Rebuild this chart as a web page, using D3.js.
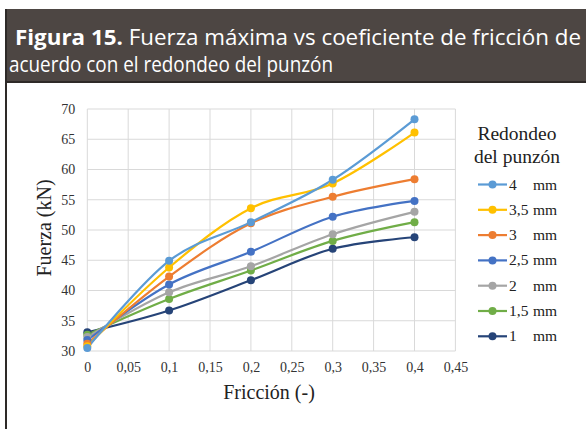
<!DOCTYPE html>
<html><head><meta charset="utf-8">
<script src="https://cdn.jsdelivr.net/npm/d3@7"></script>
<style>body{margin:0;background:#fff}svg{display:block}</style>
</head><body>
<svg id="c" width="586" height="429"></svg>
<script>
const friction = [0, 0.1, 0.2, 0.3, 0.4];
const seriesNames = ["4    mm", "3,5 mm", "3    mm", "2,5 mm", "2    mm", "1,5 mm", "1    mm"];
const s4   = [30.5, 44.9, 51.3, 58.3, 68.3];
const s35  = [30.8, 43.8, 53.6, 57.7, 66.1];
const s3   = [31.2, 42.3, 51.1, 55.5, 58.4];
const s25  = [31.8, 41.0, 46.4, 52.2, 54.8];
const s2   = [32.3, 39.7, 44.0, 49.3, 53.0];
const s15  = [32.7, 38.6, 43.3, 48.2, 51.3];
const s1   = [33.1, 36.7, 41.7, 46.9, 48.8];
const colors = ["#5B9BD5", "#FFC000", "#ED7D31", "#4472C4", "#A5A5A5", "#70AD47", "#264478"];
const xTicks = [0, 0.05, 0.1, 0.15, 0.2, 0.25, 0.3, 0.35, 0.4, 0.45];
const yTicks = [30, 35, 40, 45, 50, 55, 60, 65, 70];

const allSeries = [s4, s35, s3, s25, s2, s15, s1];
const svg = d3.select("#c");

// header
svg.append("rect").attr("x", 5).attr("y", 9).attr("width", 581).attr("height", 74).attr("fill", "#4d4643");
svg.append("rect").attr("x", 5).attr("y", 81).attr("width", 581).attr("height", 2).attr("fill", "#2e2a28");
svg.append("rect").attr("x", 5).attr("y", 9).attr("width", 2).attr("height", 420).attr("fill", "#2e2a28");
const t1 = svg.append("text").attr("x", 15).attr("y", 45).attr("fill", "#fff")
  .style("font-family", "Open Sans").style("font-size", "21px")
  .attr("textLength", 566).attr("lengthAdjust", "spacingAndGlyphs");
t1.append("tspan").style("font-weight", "bold").text("Figura 15.");
t1.append("tspan").text(" Fuerza máxima vs coeficiente de fricción de");
svg.append("text").attr("x", 9).attr("y", 72).attr("fill", "#fff")
  .style("font-family", "Open Sans").style("font-size", "21px")
  .attr("textLength", 324).attr("lengthAdjust", "spacingAndGlyphs")
  .text("acuerdo con el redondeo del punzón");

const x = d3.scaleLinear().domain([0, 0.45]).range([87.3, 455.4]);
const y = d3.scaleLinear().domain([30, 70]).range([351, 109]);

const g = svg.append("g");
// grid
g.selectAll(".vg").data(xTicks).join("line")
  .attr("x1", d => x(d)).attr("x2", d => x(d)).attr("y1", y(30)).attr("y2", y(70))
  .attr("stroke", "#d9d9d9").attr("stroke-width", 1);
g.selectAll(".hg").data(yTicks).join("line")
  .attr("x1", x(0)).attr("x2", x(0.45)).attr("y1", d => y(d)).attr("y2", d => y(d))
  .attr("stroke", "#d9d9d9").attr("stroke-width", 1);

const serif = "'Liberation Serif', 'Times New Roman', serif";
// axes via d3
const xa = svg.append("g").attr("transform", `translate(0,${y(30)})`)
  .call(d3.axisBottom(x).tickValues(xTicks).tickSize(0).tickPadding(11)
    .tickFormat(d => String(+d.toFixed(2)).replace(".", ",")));
xa.select(".domain").remove();
xa.selectAll("text").style("font-family", serif).style("font-size", "14px").attr("fill", "#333");
const ya = svg.append("g").attr("transform", `translate(${x(0)},0)`)
  .call(d3.axisLeft(y).tickValues(yTicks).tickSize(0).tickPadding(12));
ya.select(".domain").remove();
ya.selectAll("text").style("font-family", serif).style("font-size", "14px").attr("fill", "#333");

// titles
svg.append("text").attr("x", 269).attr("y", 399).attr("text-anchor", "middle")
  .style("font-family", serif).style("font-size", "20px").attr("fill", "#222").text("Fricción (-)");
svg.append("text").attr("transform", "translate(51,228) rotate(-90)").attr("text-anchor", "middle")
  .style("font-family", serif).style("font-size", "20px").attr("fill", "#222").text("Fuerza (kN)");

// lines
const line = d3.line().x((d, i) => x(friction[i])).y(d => y(d)).curve(d3.curveCardinal);
const order = [6, 5, 4, 3, 2, 1, 0];
order.forEach(k => {
  const vals = allSeries[k];
  svg.append("path").attr("d", line(vals)).attr("fill", "none")
    .attr("stroke", colors[k]).attr("stroke-width", 2.2);
});
order.forEach(k => {
  const vals = allSeries[k];
  svg.append("g").selectAll("circle").data(vals).join("circle")
    .attr("cx", (d, i) => x(friction[i])).attr("cy", d => y(d)).attr("r", 4)
    .attr("fill", colors[k]);
});

// legend
svg.append("text").attr("x", 517).attr("y", 140).attr("text-anchor", "middle")
  .style("font-family", serif).style("font-size", "19.5px").attr("fill", "#222").text("Redondeo");
svg.append("text").attr("x", 517).attr("y", 163).attr("text-anchor", "middle")
  .style("font-family", serif).style("font-size", "19.5px").attr("fill", "#222").text("del punzón");
seriesNames.forEach((name, i) => {
  const yy = 184.5 + i * 25.3;
  svg.append("line").attr("x1", 478).attr("x2", 507).attr("y1", yy).attr("y2", yy)
    .attr("stroke", colors[i]).attr("stroke-width", 2.2);
  svg.append("circle").attr("cx", 492.5).attr("cy", yy).attr("r", 4).attr("fill", colors[i]);
  const parts = name.split(/\s+/);
  const tt = svg.append("text").attr("y", yy + 5)
    .style("font-family", serif).style("font-size", "15.5px").attr("fill", "#222");
  tt.append("tspan").attr("x", 509).text(parts[0]);
  tt.append("tspan").attr("x", 533).text(parts[1]);
});
</script>
</body></html>
